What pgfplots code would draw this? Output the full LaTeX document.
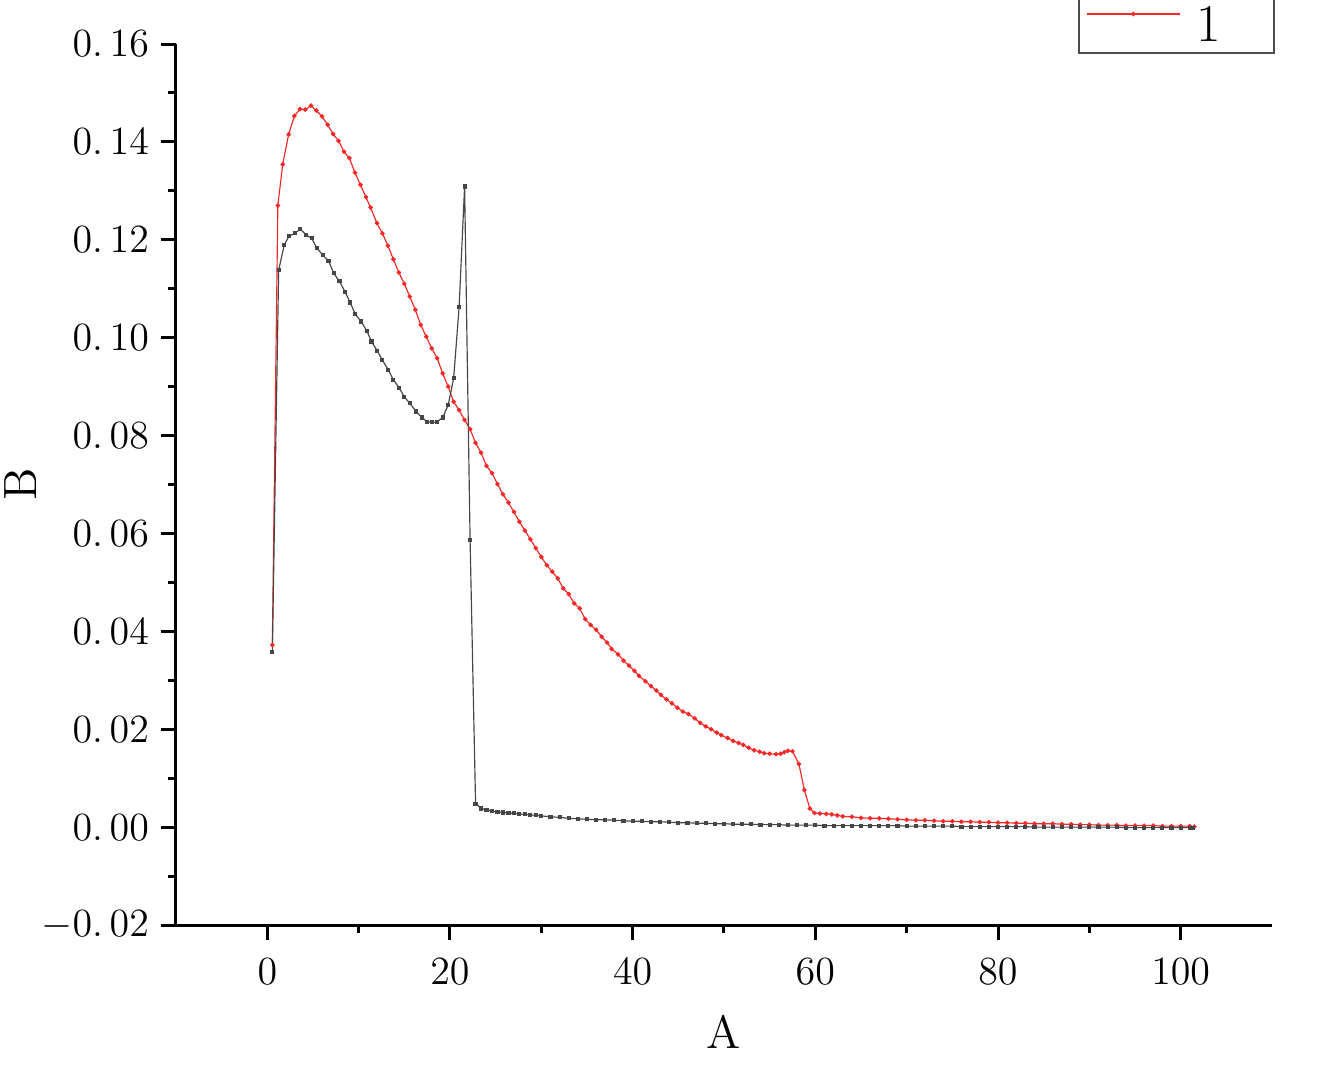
\documentclass[border=0pt]{standalone}
\usepackage{pgfplots}
\pgfplotsset{compat=1.18}
\definecolor{dgray}{RGB}{70,70,70}
\definecolor{lred}{RGB}{245,40,40}
\begin{document}
\begin{tikzpicture}
\begin{axis}[
  name=ax,
  scale only axis,
  width=328.8pt, height=264.3pt,
  xmin=-10, xmax=110, ymin=-0.02, ymax=0.16,
  axis x line*=bottom, axis y line*=left,
  axis line style={line width=0.9pt},
  every tick/.style={line width=0.9pt, black},
  tick align=outside,
  major tick length=4.6pt, minor tick length=2.3pt,
  xtick={0,20,40,60,80,100},
  minor x tick num=1,
  ytick={-0.02,0,0.02,0.04,0.06,0.08,0.10,0.12,0.14,0.16},
  yticklabels={$-0.\,02$,$0.\,00$,$0.\,02$,$0.\,04$,$0.\,06$,$0.\,08$,$0.\,10$,$0.\,12$,$0.\,14$,$0.\,16$},
  minor y tick num=1,
  tick label style={font=\fontsize{11.8}{13}\selectfont},
  xticklabel style={yshift=-2pt},
  xlabel={A}, ylabel={B},
  label style={font=\fontsize{14}{16}\selectfont, inner sep=0pt},
  xlabel style={at={(rel axis cs:0.5,0)}, anchor=north, yshift=-27pt},
  ylabel style={at={(rel axis cs:0,0.5)}, anchor=south, yshift=41.7pt},
  clip=false,
  legend style={at={(rel axis cs:1.0027,0.9885)}, anchor=south east, draw=black!70, line width=0.6pt,
    font=\fontsize{16}{18}\selectfont, inner xsep=2pt, inner ysep=0pt},
  legend image code/.code={\draw[mark repeat=2,mark phase=2,#1] plot coordinates {(0pt,0pt) (14pt,0pt) (28pt,0pt)};},
]
\addplot[lred, line width=0.35pt, mark=*, mark size=0.5pt, mark options={fill=lred, draw=lred}] coordinates {
(0.55,0.0372)(1.15,0.1270)(1.68,0.1354)(2.33,0.1415)(2.96,0.1453)(3.58,0.1467)(4.16,0.1466)(4.78,0.1474)
(5.37,0.1464)(5.99,0.1452)(6.6,0.1435)(7.2,0.1416)(7.8,0.1402)(8.4,0.1380)(8.98,0.1367)(9.6,0.1337)
(10.2,0.1312)(10.8,0.1287)(11.3,0.1266)(12.0,0.1234)(12.6,0.1213)(13.2,0.1188)(13.8,0.1160)(14.4,0.1133)
(15.0,0.1110)(15.6,0.1084)(16.2,0.1057)(16.8,0.1026)(17.4,0.1002)(18.0,0.0978)(18.6,0.0958)(19.2,0.0927)
(19.8,0.0900)(20.4,0.0869)(21.0,0.0852)(21.6,0.0832)(22.2,0.0813)(22.8,0.0785)(23.4,0.0765)(24.0,0.0738)
(24.6,0.0723)(25.2,0.0701)(25.8,0.0680)(26.4,0.0663)(27.0,0.0644)(27.6,0.0624)(28.2,0.0606)(28.8,0.0588)
(29.4,0.0570)(30.0,0.0552)(30.6,0.0535)(31.2,0.0522)(31.8,0.0508)(32.4,0.0488)(33.0,0.0476)(33.6,0.0457)
(34.2,0.0447)(34.8,0.0425)(35.4,0.0413)(36.0,0.0403)(36.6,0.0389)(37.2,0.0377)(37.7,0.0364)(38.4,0.0353)
(39.0,0.0340)(39.6,0.0330)(40.2,0.0319)(40.7,0.0309)(41.4,0.0298)(42.0,0.0288)(42.6,0.0279)(43.1,0.0270)
(43.7,0.0261)(44.3,0.0253)(44.9,0.0244)(45.5,0.0236)(46.1,0.0231)(46.8,0.0222)(47.4,0.0213)(48.0,0.0206)
(48.6,0.0200)(49.2,0.0193)(49.7,0.0188)(50.4,0.0182)(51.0,0.0176)(51.6,0.0172)(52.1,0.0168)(52.7,0.0162)
(53.3,0.0157)(53.9,0.0154)(54.4,0.0151)(55.0,0.0150)(55.7,0.0149)(56.2,0.0150)(56.6,0.0153)(57.0,0.0156)
(57.5,0.0155)(58.2,0.0129)(58.8,0.0076)(59.4,0.0038)(59.9,0.0029)(60.5,0.0028)(61.2,0.0027)(61.8,0.0026)
(62.4,0.0024)(63.0,0.0022)(64,0.0021)(65,0.0019)(66,0.0018)(67,0.0018)(68,0.0017)(69,0.0016)
(70,0.0015)(71,0.0014)(72,0.0014)(73,0.0013)(74,0.0012)(75,0.0012)(76,0.0011)(77,0.0011)
(78,0.0010)(79,0.0010)(80,0.0009)(81,0.0009)(82,0.0008)(83,0.0008)(84,0.0007)(85,0.0007)
(86,0.0007)(87,0.0006)(88,0.0006)(89,0.0005)(90,0.0005)(91,0.0004)(92,0.0004)(93,0.0004)
(94,0.0003)(95,0.0003)(96,0.0003)(97,0.0003)(98,0.0002)(99,0.0002)(100,0.0002)(101,0.0002)(101.5,0.0001)
};
\addlegendentry{\makebox[22pt][l]{\,1}\rule{0pt}{18pt}}
\addplot[dgray, line width=0.35pt, mark=square*, mark size=0.45pt, mark options={fill=dgray, draw=dgray}, forget plot] coordinates {
(0.55,0.0358)(1.24,0.1138)(1.86,0.1190)(2.4,0.1208)(3.03,0.1213)(3.6,0.1222)(4.24,0.1210)
(4.85,0.1203)(5.4,0.1184)(6.05,0.1169)(6.7,0.1157)(7.26,0.1132)(7.9,0.1115)(8.5,0.1094)(9.06,0.1072)
(9.64,0.1048)(10.26,0.1033)(10.9,0.1014)(11.4,0.0992)(12.05,0.0973)(12.6,0.0954)(13.25,0.0934)(13.8,0.0914)
(14.45,0.0897)(15.0,0.0879)(15.6,0.0866)(16.3,0.0849)(16.9,0.0837)(17.5,0.0828)(18.05,0.0827)(18.6,0.0828)
(19.2,0.0837)(19.8,0.0862)(20.4,0.0917)(21.0,0.1063)(21.6,0.1309)(22.2,0.0587)(22.8,0.0048)(23.4,0.0038)
(24.0,0.0035)(24.6,0.0033)(25.2,0.0031)(25.8,0.0030)(26.4,0.0029)(27.0,0.0028)(27.6,0.0027)(28.2,0.0026)
(28.8,0.0025)(29.4,0.0024)(30.0,0.0023)(31,0.0021)(32,0.0020)(33,0.0018)(34,0.0017)(35,0.0016)
(36,0.0015)(37,0.0015)(38,0.0014)(39,0.0013)(40,0.0012)(41,0.0012)(42,0.0011)(43,0.0011)
(44,0.0010)(45,0.0009)(46,0.0009)(47,0.0008)(48,0.0008)(49,0.0007)(50,0.0007)(51,0.0006)
(52,0.0006)(53,0.0006)(54,0.0005)(55,0.0005)(56,0.0005)(57,0.0004)(58,0.0004)(59,0.0004)
(60,0.0004)(61,0.0003)(62,0.0003)(63,0.0003)(64,0.0003)(65,0.0003)(66,0.0003)(67,0.0003)
(68,0.0003)(69,0.0003)(70,0.0002)(71,0.0002)(72,0.0002)(73,0.0002)(74,0.0002)(75,0.0002)
(76,0.0001)(77,0.0001)(78,0.0001)(79,0.0001)(80,0.0001)(81,0.0001)(82,0.0001)(83,0.0001)
(84,0.0000)(85,0.0000)(86,0.0000)(87,0.0000)(88,0.0000)(89,0.0000)(90,0.0000)(91,0.0000)
(92,0.0000)(93,0.0000)(94,-0.0001)(95,-0.0001)(96,-0.0001)(97,-0.0001)(98,-0.0001)(99,-0.0001)
(100,-0.0001)(101,-0.0001)(101.3,-0.0001)
};
\end{axis}
\pgfresetboundingbox
\path[use as bounding box] ([shift={(-52.8pt,-44.1pt)}]ax.south west) rectangle ([shift={(15pt,13.2pt)}]ax.north east);
\end{tikzpicture}
\end{document}
